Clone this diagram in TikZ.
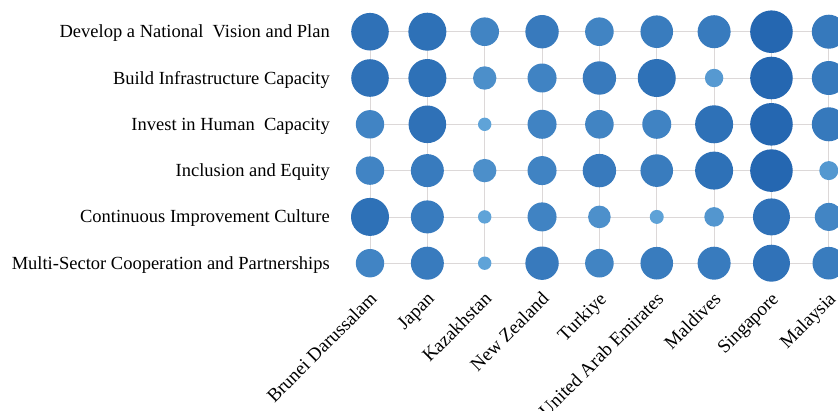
\documentclass[tikz,border=0pt]{standalone}
\usepackage{fontspec}
\setmainfont{Liberation Serif}

\definecolor{bubblelight}{RGB}{96,164,216}
\definecolor{bubbledark}{RGB}{36,102,176}
\definecolor{gridgray}{RGB}{220,216,216}

\begin{document}
\begin{tikzpicture}[
    x=1pt, y=-1pt,
    font=\fontsize{18.5}{20}\selectfont,
    rowlabel/.style={anchor=base east, inner sep=0pt},
    collabel/.style={anchor=base east, inner sep=0pt, rotate=45, font=\fontsize{19}{20}\selectfont},
    gridline/.style={draw=gridgray, line width=0.8pt},
    bubble/.style={circle, inner sep=0pt, draw=none}
]

% Page frame
\useasboundingbox (0,0) rectangle (838,410);
\clip (0,0) rectangle (838,410);

% Grid positions
\foreach \i in {1,...,6} {
    \foreach \j in {1,...,9} {
        \coordinate (g\i-\j) at ({370+57.35*(\j-1)}, {31.7+46.3*(\i-1)});
    }
}

% Grid lines
\foreach \i in {1,...,6} {
    \draw[gridline] (g\i-1) -- (g\i-9);
}
\foreach \j in {1,...,9} {
    \draw[gridline] (g1-\j) -- (g6-\j);
}

% Bubbles (radius per cell)
\foreach \row [count=\i] in {
    {18.8,19,14.3,16.7,14.3,16.3,16.5,21.3,17},
    {18.8,19,11.7,14.5,16.7,19,9.2,21.3,17},
    {14.2,18.8,6.7,14.5,14.3,14.5,19,21.3,17},
    {14.2,16.5,11.7,14.5,16.7,16.3,19,21.3,9.5},
    {19,16.5,6.7,14.5,11.3,7,9.8,18.5,14},
    {14.2,16.5,6.7,16.7,14.3,16.3,16.5,18.5,16.3}} {
    \foreach \r [count=\j] in \row {
        \pgfmathtruncatemacro\shade{100*(\r-6.5)/15}
        \pgfmathsetmacro\diam{2*\r}
        \node[bubble, minimum size=\diam pt, fill=bubbledark!\shade!bubblelight] (b\i-\j) at (g\i-\j) {};
    }
}

% Row labels
\foreach \txt [count=\i] in {
    Develop a National~~Vision and Plan,
    Build Infrastructure Capacity,
    Invest in Human~~Capacity,
    Inclusion and Equity,
    Continuous Improvement Culture,
    Multi-Sector Cooperation and Partnerships} {
    \node[rowlabel] (row\i) at ([xshift=-40pt, yshift=-6pt]g\i-1) {\txt};
}

% Country labels
\foreach \txt [count=\j] in {
    Brunei Darussalam, Japan, Kazakhstan, New Zealand, Turkiye,
    United Arab Emirates, Maldives, Singapore, Malaysia} {
    \node[collabel] (col\j) at ([xshift=8pt, yshift=-36.8pt]g6-\j) {\txt};
}

\end{tikzpicture}
\end{document}
